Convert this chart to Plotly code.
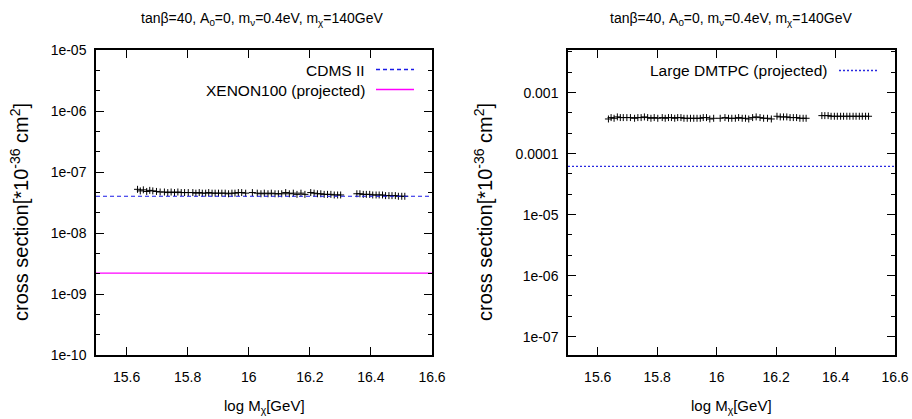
import plotly.graph_objects as go
import numpy as np

# ---- data ----
log_mx = [15.636, 15.645, 15.655, 15.666, 15.676, 15.686,
          15.698, 15.710,
          15.724, 15.735, 15.746, 15.757, 15.768, 15.779, 15.790, 15.802,
          15.817, 15.827, 15.838, 15.848, 15.859, 15.869, 15.880, 15.890,
          15.901, 15.912, 15.923, 15.934, 15.945, 15.955, 15.966,
          15.977, 15.990,
          16.012, 16.028,
          16.040, 16.051, 16.063, 16.074, 16.086, 16.097,
          16.108, 16.121, 16.133, 16.146, 16.158, 16.171, 16.184,
          16.203, 16.214, 16.225, 16.236, 16.247, 16.258, 16.269, 16.280, 16.291, 16.301,
          16.354, 16.364, 16.375, 16.385, 16.396, 16.406, 16.417, 16.427,
          16.438, 16.448, 16.459, 16.469, 16.480, 16.490, 16.501, 16.511]

sigma_si = [5.2e-8, 4.9e-8, 5.1e-8, 4.8e-8, 5.0e-8, 4.9e-8,
            4.8e-8, 4.7e-8,
            4.7e-8, 4.6e-8, 4.7e-8, 4.6e-8, 4.7e-8, 4.6e-8, 4.6e-8, 4.6e-8,
            4.6e-8, 4.5e-8, 4.6e-8, 4.5e-8, 4.5e-8, 4.6e-8, 4.5e-8, 4.5e-8,
            4.5e-8, 4.5e-8, 4.5e-8, 4.4e-8, 4.5e-8, 4.5e-8, 4.6e-8,
            4.6e-8, 4.5e-8,
            4.6e-8, 4.5e-8,
            4.4e-8, 4.5e-8, 4.4e-8, 4.5e-8, 4.4e-8, 4.4e-8,
            4.4e-8, 4.6e-8, 4.4e-8, 4.5e-8, 4.3e-8, 4.5e-8, 4.3e-8,
            4.6e-8, 4.5e-8, 4.4e-8, 4.4e-8, 4.3e-8, 4.3e-8, 4.3e-8, 4.2e-8, 4.2e-8, 4.2e-8,
            4.4e-8, 4.4e-8, 4.3e-8, 4.3e-8, 4.3e-8, 4.2e-8, 4.2e-8, 4.2e-8,
            4.2e-8, 4.1e-8, 4.1e-8, 4.1e-8, 4.1e-8, 4.0e-8, 4.0e-8, 4.0e-8]

sigma_sd = [3.7e-4, 3.9e-4, 3.8e-4, 4.0e-4, 3.9e-4, 3.9e-4,
            3.9e-4, 3.9e-4,
            3.8e-4, 3.9e-4, 3.9e-4, 4.0e-4, 3.9e-4, 3.8e-4, 3.9e-4, 3.8e-4,
            3.9e-4, 3.8e-4, 3.9e-4, 3.9e-4, 3.8e-4, 3.9e-4, 3.9e-4, 3.8e-4,
            3.8e-4, 3.8e-4, 3.8e-4, 3.8e-4, 3.8e-4, 3.9e-4, 3.9e-4,
            3.7e-4, 3.8e-4,
            3.8e-4, 3.9e-4,
            3.8e-4, 3.8e-4, 3.8e-4, 3.9e-4, 3.8e-4, 3.8e-4,
            3.7e-4, 3.9e-4, 4.0e-4, 3.9e-4, 3.8e-4, 3.8e-4, 3.7e-4,
            4.1e-4, 4.0e-4, 4.0e-4, 4.0e-4, 3.9e-4, 3.9e-4, 3.9e-4, 3.8e-4, 3.8e-4, 3.8e-4,
            4.2e-4, 4.2e-4, 4.2e-4, 4.1e-4, 4.1e-4, 4.1e-4, 4.1e-4, 4.1e-4,
            4.1e-4, 4.1e-4, 4.1e-4, 4.1e-4, 4.1e-4, 4.1e-4, 4.1e-4, 4.1e-4]

x_range = [15.5, 16.6]
x_ticks = [15.6, 15.8, 16.0, 16.2, 16.4, 16.6]
x_ticktext = ["15.6", "15.8", "16", "16.2", "16.4", "16.6"]

cdms_limit = 4.0e-8
xenon_limit = 2.2e-9
dmtpc_limit = 6.2e-5

left_y_ticks = [1e-10, 1e-9, 1e-8, 1e-7, 1e-6, 1e-5]
left_y_text = ["1e-10", "1e-09", "1e-08", "1e-07", "1e-06", "1e-05"]
right_y_ticks = [1e-7, 1e-6, 1e-5, 1e-4, 1e-3]
right_y_text = ["1e-07", "1e-06", "1e-05", "0.0001", "0.001"]

title_text = "tanβ=40, A<sub>0</sub>=0, m<sub>ν</sub>=0.4eV, m<sub>χ</sub>=140GeV"
xtitle = "log M<sub>χ</sub>[GeV]"
ytitle = "cross section[*10<sup>-36</sup> cm<sup>2</sup>]"

# ---- figure ----
W, H = 912, 419
FONT = "Liberation Sans, Arial, sans-serif"
fig = go.Figure()


def px_x(p):
    return p / W


def px_y(p):
    return 1 - p / H


marker = dict(symbol="cross-thin", size=5, line=dict(width=1, color="black"), color="black")

fig.add_trace(go.Scatter(x=log_mx, y=sigma_si, mode="markers", marker=marker,
                         xaxis="x", yaxis="y", showlegend=False))
fig.add_trace(go.Scatter(x=x_range, y=[cdms_limit] * 2, mode="lines",
                         line=dict(color="#1a1ae6", width=1.2, dash="4px,3px"),
                         xaxis="x", yaxis="y", showlegend=False))
fig.add_trace(go.Scatter(x=x_range, y=[xenon_limit] * 2, mode="lines",
                         line=dict(color="#ff00ff", width=1.2),
                         xaxis="x", yaxis="y", showlegend=False))
fig.add_trace(go.Scatter(x=log_mx, y=sigma_sd, mode="markers", marker=marker,
                         xaxis="x2", yaxis="y2", showlegend=False))
fig.add_trace(go.Scatter(x=x_range, y=[dmtpc_limit] * 2, mode="lines",
                         line=dict(color="#2a2ae0", width=1.2, dash="2px,2px"),
                         xaxis="x2", yaxis="y2", showlegend=False))


def minor_vals(lo, hi):
    vals = []
    for n in range(lo, hi):
        vals += [10 ** (n + 1 / 3), 10 ** (n + 2 / 3)]
    return vals


common_x = dict(range=x_range, tickvals=x_ticks, ticktext=x_ticktext, ticks="inside",
                ticklen=8, tickwidth=1, tickcolor="black", mirror="ticks",
                showline=True, linecolor="black", linewidth=1.5, showgrid=False,
                zeroline=False, automargin=False, ticklabelstandoff=8,
                ticklabeloverflow="allow",
                tickfont=dict(size=14, color="black", family=FONT))

common_y = dict(type="log", ticks="inside", ticklen=8, tickwidth=1, tickcolor="black",
                mirror="ticks", showline=True, linecolor="black", linewidth=1.5,
                showgrid=False, zeroline=False, automargin=False, ticklabelstandoff=5,
                ticklabeloverflow="allow",
                tickfont=dict(size=14, color="black", family=FONT))

fig.update_layout(
    width=W, height=H, margin=dict(l=0, r=0, t=0, b=0),
    paper_bgcolor="white", plot_bgcolor="white",
    font=dict(family=FONT, color="black", size=14),
    xaxis=dict(domain=[px_x(96), px_x(432)], anchor="y", **common_x),
    xaxis2=dict(domain=[px_x(568), px_x(895)], anchor="y2", **common_x),
    yaxis=dict(domain=[px_y(355), px_y(50)], anchor="x", range=[-10, -5],
               tickvals=left_y_ticks, ticktext=left_y_text,
               minor=dict(tickvals=minor_vals(-10, -5), ticks="inside", ticklen=4,
                          tickcolor="black", showgrid=False),
               **common_y),
    yaxis2=dict(domain=[px_y(355), px_y(50)], anchor="x2",
                range=[np.log10(5e-8), np.log10(5e-3)],
                tickvals=right_y_ticks, ticktext=right_y_text,
                minor=dict(tickvals=minor_vals(-8, -2), ticks="inside", ticklen=4,
                           tickcolor="black", showgrid=False),
                **common_y),
)


def ann(text, x, y, size, xanchor="center", angle=0):
    return dict(text=text, x=px_x(x), y=px_y(y), xref="paper", yref="paper",
                xanchor=xanchor, yanchor="middle", showarrow=False, textangle=angle,
                font=dict(size=size, family=FONT, color="black"))


annotations = [
    ann(title_text, 262, 19, 14),
    ann(title_text, 731, 19, 14),
    ann(xtitle, 264, 406, 15),
    ann(xtitle, 731, 406, 15),
    ann(ytitle, 20, 212, 20, angle=-90),
    ann(ytitle, 484, 212, 20, angle=-90),
    ann("CDMS II", 367, 70, 15.5, xanchor="right"),
    ann("XENON100 (projected)", 367, 90, 15.5, xanchor="right"),
    ann("Large DMTPC (projected)", 829, 71, 15.5, xanchor="right"),
]
fig.update_layout(annotations=annotations)

shapes = [
    dict(type="line", xref="paper", yref="paper", x0=px_x(376), x1=px_x(414),
         y0=px_y(69.5), y1=px_y(69.5), line=dict(color="#1a1ae6", width=1.5, dash="4px,3px")),
    dict(type="line", xref="paper", yref="paper", x0=px_x(376), x1=px_x(414),
         y0=px_y(89.5), y1=px_y(89.5), line=dict(color="#ff00ff", width=1.5)),
    dict(type="line", xref="paper", yref="paper", x0=px_x(839), x1=px_x(878),
         y0=px_y(70.5), y1=px_y(70.5), line=dict(color="#2a2ae0", width=1.5, dash="2px,2px")),
]
fig.update_layout(shapes=shapes)

fig.write_html(
    "out.html",
    config={"displayModeBar": False},
    post_script="document.body.style.margin='0';document.body.style.overflow='hidden';",
)
